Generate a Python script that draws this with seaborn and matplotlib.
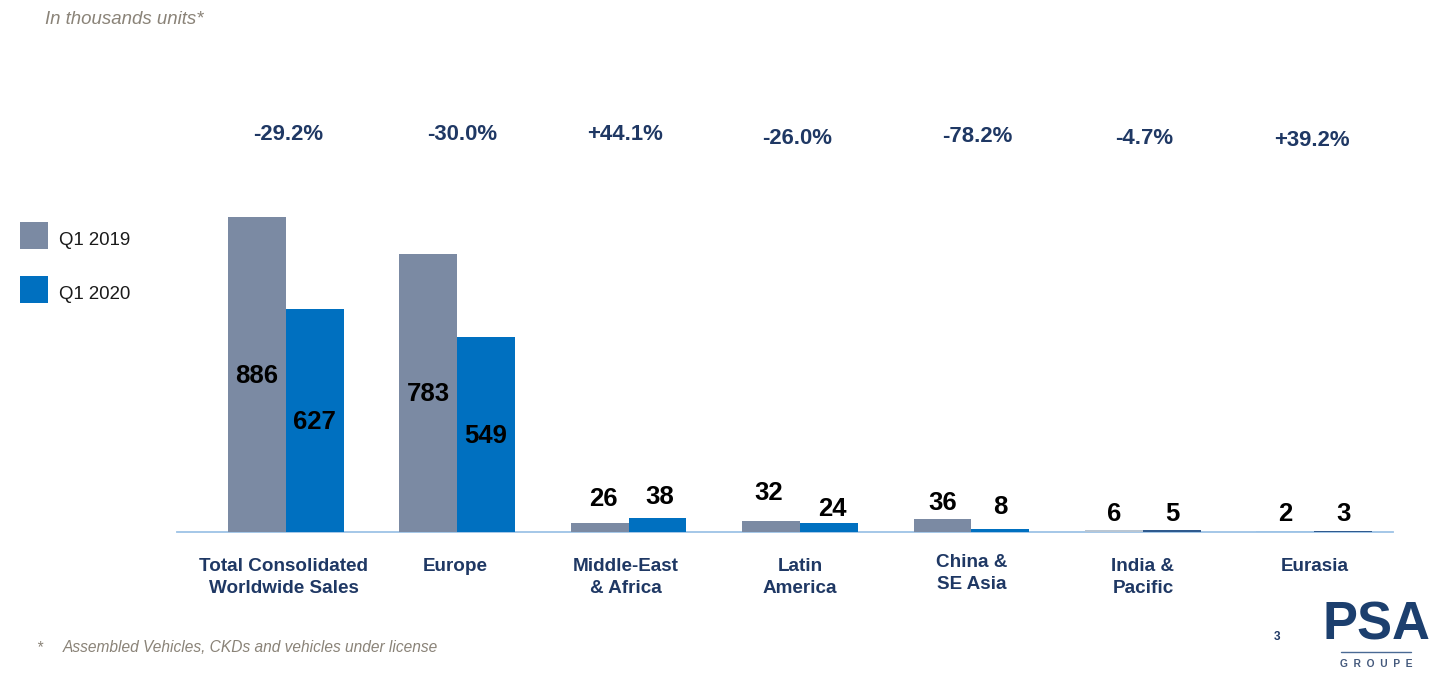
import pandas as pd
import matplotlib
matplotlib.use("Agg")
import matplotlib.pyplot as plt
from matplotlib.transforms import Affine2D, ScaledTranslation
import seaborn as sns

categories = ["Total Consolidated\nWorldwide Sales", "Europe", "Middle-East\n& Africa",
              "Latin\nAmerica", "China &\nSE Asia", "India &\nPacific", "Eurasia"]
q1_2019 = [886, 783, 26, 32, 36, 6, 2]
q1_2020 = [627, 549, 38, 24, 8, 5, 3]
changes = ["-29.2%", "-30.0%", "+44.1%", "-26.0%", "-78.2%", "-4.7%", "+39.2%"]
series = ["Q1 2019", "Q1 2020"]

W, H = 1451, 689
sns.set_theme(style="white")
plt.rcParams["font.family"] = ["Liberation Sans", "DejaVu Sans"]

NAVY = "#1f3864"
GREY_TXT = "#8a8378"
fig = plt.figure(figsize=(W / 100, H / 100), dpi=100, facecolor="white")
# axes occupy x 177..1393, y 200..532 in image pixels
ax = fig.add_axes([177 / W, 1 - 532 / H, (1393 - 177) / W, (532 - 200) / H])
px = Affine2D().scale(1 / W, -1 / H).translate(0, 1) + fig.transFigure

df = pd.DataFrame({
    "region": categories * 2,
    "period": [series[0]] * 7 + [series[1]] * 7,
    "units": q1_2019 + q1_2020,
})
sns.barplot(data=df, x="region", y="units", hue="period", order=categories,
            palette=["#7b8aa3", "#0070c0"], saturation=1, width=0.676, gap=0,
            dodge=True, ax=ax, linewidth=0, legend=True, zorder=3)

ax.set_xlim(-0.633, 6.458)
ax.set_ylim(0, 332 / 0.3555)
ax.set_xlabel("")
ax.set_ylabel("")
ax.set_yticks([])
for s in ["top", "left", "right"]:
    ax.spines[s].set_visible(False)
ax.spines["bottom"].set_color("#9dc3e6")
ax.spines["bottom"].set_linewidth(1.3)
ax.spines["bottom"].set_zorder(2)

# category labels
ax.tick_params(axis="x", length=0, pad=18.5, bottom=False)
ax.set_xticks(range(len(categories)))
ax.set_xticklabels(categories, fontsize=13.6, fontweight="bold", color=NAVY,
                   linespacing=1.4)
label_dx = [-2, -2, -3, 0, 0, 0, 0]
label_dy = [0, 0, 0, 0, 4, 0, 0]
for lab, dx, dy in zip(ax.get_xticklabels(), label_dx, label_dy):
    lab.set_transform(lab.get_transform() +
                      ScaledTranslation(dx / 100, dy / 100, fig.dpi_scale_trans))

# value labels
bars = [p for c in ax.containers for p in c.patches]
values = q1_2019 + q1_2020
# hairline bars read differently in the reference
for idx, col in {5: "#b9c6d3", 6: "#9dc3e6", 12: "#2f5a8e", 13: "#2f5a8e"}.items():
    bars[idx].set_facecolor(col)

small_y = {2: 499, 3: 493, 4: 503, 5: 514, 6: 514,
           9: 497, 10: 509, 11: 507, 12: 514, 13: 514}
small_dx = {2: 4, 9: 2, 3: -2, 10: 3}
for i, (bar, v) in enumerate(zip(bars, values)):
    xc = bar.get_x() + bar.get_width() / 2
    if i in small_y:
        xpx = ax.transData.transform((xc, 0))[0] + small_dx.get(i, 0)
        fig.text(xpx / W, 1 - small_y[i] / H, str(v), ha="center", va="center",
                 fontsize=18.5, fontweight="bold", color="black")
    else:
        ax.text(xc, v / 2 - 4, str(v), ha="center", va="center",
                fontsize=18.5, fontweight="bold", color="black", zorder=5)

# change labels
chg_x = [288, 462, 625, 797, 977, 1144, 1312]
chg_y = [134, 135, 135, 138, 137, 139, 140]
for x, y, t in zip(chg_x, chg_y, changes):
    fig.text(x, y, t, transform=px, ha="center", va="center",
             fontsize=15.9, fontweight="bold", color=NAVY)

# legend
handles, labels = ax.get_legend_handles_labels()
leg = ax.legend(handles, labels, loc="upper left", bbox_to_anchor=(20 / W, 1 - 222 / H),
                bbox_transform=fig.transFigure, frameon=False, fontsize=13.4,
                handlelength=1.5, handleheight=1.85, labelspacing=1.45, handletextpad=0.6,
                borderpad=0, borderaxespad=0, labelcolor="#1a1a1a")
for t in leg.get_texts():
    t.set_y(-4)

# notes
fig.text(45, 20, "In thousands units*", transform=px, ha="left", va="center",
         fontsize=13.4, style="italic", color=GREY_TXT)
fig.text(36, 648, "*", transform=px, ha="left", va="center",
         fontsize=11.2, style="italic", color=GREY_TXT)
fig.text(63, 648, "Assembled Vehicles, CKDs and vehicles under license", transform=px,
         ha="left", va="center", fontsize=11.2, style="italic", color=GREY_TXT)
fig.text(1277, 637, "3", transform=px, ha="center", va="center",
         fontsize=8.5, fontweight="bold", color=NAVY)

# logo as text
fig.text(1376, 626, "PSA", transform=px, ha="center", va="center",
         fontsize=37.8, fontweight="bold", color="#1c3f6e")
fig.add_artist(plt.Line2D([1341, 1411], [652, 652], transform=px, color="#4a6a94", lw=1))
fig.text(1376, 664, "G  R  O  U  P  E", transform=px, ha="center", va="center",
         fontsize=7.4, fontweight="bold", color="#44597c")

fig.savefig("out.png", dpi=100, facecolor="white")
